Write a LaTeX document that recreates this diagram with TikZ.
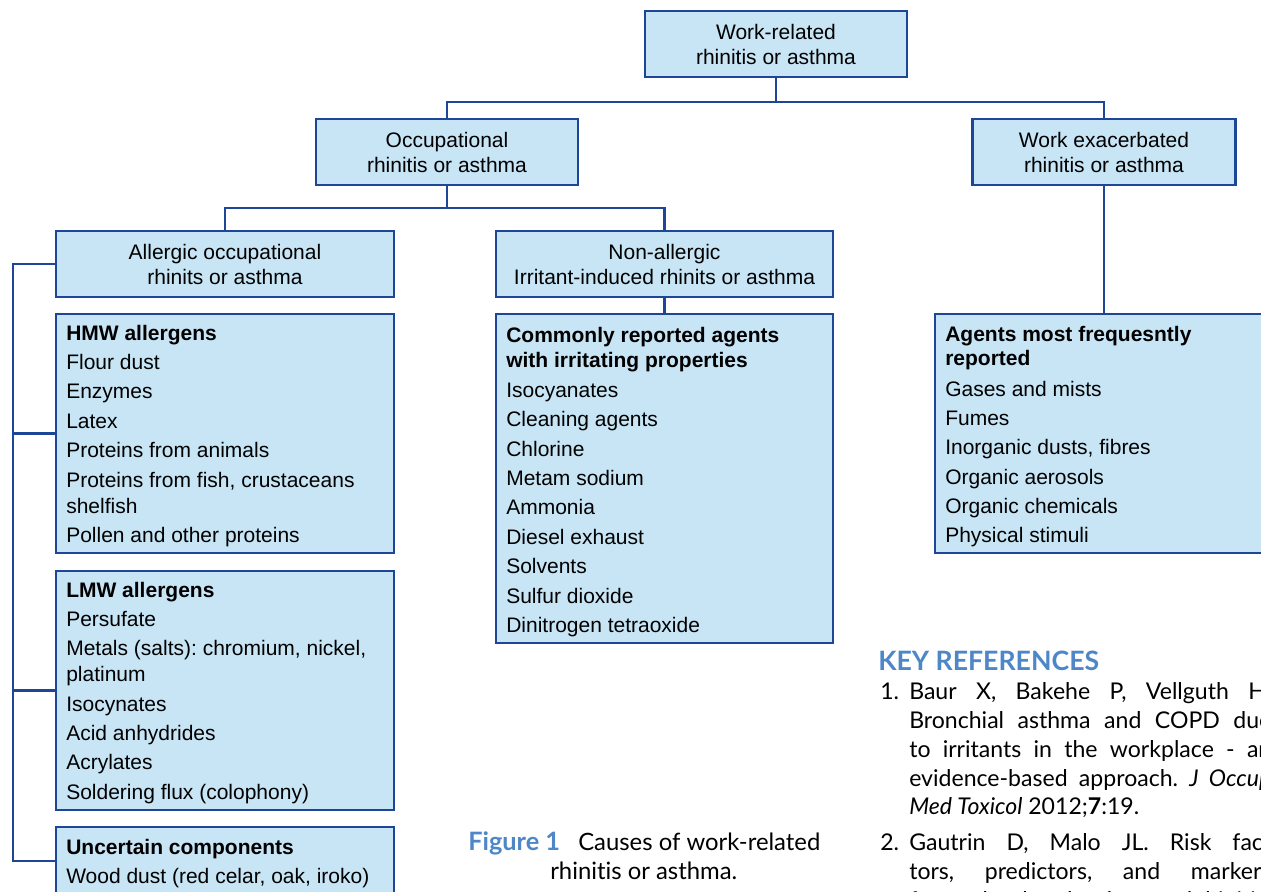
\documentclass[tikz,border=0pt]{standalone}
\usepackage{fontspec}
\setmainfont{Liberation Sans}
\newfontfamily\lato[Ligatures=NoCommon]{Lato}
\definecolor{bfill}{RGB}{199,229,245}
\definecolor{bline}{RGB}{30,70,150}
\definecolor{kblue}{RGB}{77,135,200}
\newcommand\dfont{\fontsize{15.75}{18.75}\selectfont}
\newcommand\rfont{\lato\fontsize{17.3}{21.75}\selectfont}
\newcommand\cfont{\lato\fontsize{17.9}{21.75}\selectfont}
\newcommand\kfont{\lato\bfseries\fontsize{20}{22}\selectfont}
\frenchspacing
\begin{document}
\begin{tikzpicture}[x=0.75pt,y=-0.75pt,
 box/.style n args={2}{draw=bline, fill=bfill, line width=1.8pt, inner sep=0pt, outer sep=0pt,
   minimum width=#1*0.75pt, minimum height=#2*0.75pt, align=center, font=\dfont},
 conn/.style={draw=bline, line width=1.8pt},
 item/.style={anchor=base west, inner sep=0pt, font=\dfont},
 head/.style={anchor=base west, inner sep=0pt, font=\dfont\bfseries},
 refl/.style={anchor=base west, inner sep=0pt, font=\rfont},
 capl/.style={anchor=base west, inner sep=0pt, font=\cfont},
]
\useasboundingbox (0,0) rectangle (1261,892);
\clip (0,0) rectangle (1261,892);
% header boxes
\node[box={262}{66}] (top) at (776,44) {Work-related\\rhinitis or asthma};
\node[box={262}{66}] (occ) at (447,152) {Occupational\\rhinitis or asthma};
\node[box={263}{66}] (wex) at (1104,152) {Work exacerbated\\rhinitis or asthma};
\node[box={338}{66}] (all) at (225,264) {Allergic occupational\\rhinits or asthma};
\node[box={337}{66}] (non) at (664.5,264) {Non-allergic\\Irritant-induced rhinits or asthma};
% list boxes
\node[box={338}{239}] (hmw) at (225,433.5) {};
\node[box={338}{239}] (lmw) at (225,690.5) {};
\node[box={338}{68}] (unc) at (225,861) {};
\node[box={337}{329}] (com) at (664.5,478.5) {};
\node[box={365}{239}] (agt) at (1117.5,433.5) {};
% connectors
\coordinate (j1) at (776,102);
\coordinate (j2) at (447,208);
\draw[conn] (top.south) -- (j1);
\draw[conn] (occ.north) |- (j1) -| (wex.north);
\draw[conn] (occ.south) -- (j2);
\draw[conn] (all.north) |- (j2) -| (non.north);
\draw[conn] (non.south) -- (com.north);
\draw[conn] (wex.south) -- (wex.south |- agt.north);
\coordinate (bt) at (13,264);
\coordinate (bb) at (13,861);
\draw[conn] (all.west) -- (bt) -- (bb) -- (unc.west);
\draw[conn] (hmw.west) -- (hmw.west -| bt);
\draw[conn] (lmw.west) -- (lmw.west -| bt);
% HMW
\node[head] (h0) at (66,340) {HMW allergens};
\node[item] (h1) at (66,369) {Flour dust};
\node[item] (h2) at (66,398) {Enzymes};
\node[item] (h3) at (66,428) {Latex};
\node[item] (h4) at (66,457) {Proteins from animals};
\node[item] (h5) at (66,487) {Proteins from fish, crustaceans};
\node[item] (h6) at (66,513) {shelfish};
\node[item] (h7) at (66,542) {Pollen and other proteins};
% LMW
\node[head] (l0) at (66,597) {LMW allergens};
\node[item] (l1) at (66,626) {Persufate};
\node[item] (l2) at (66,655) {Metals (salts): chromium, nickel,};
\node[item] (l3) at (66,681) {platinum};
\node[item] (l4) at (66,711) {Isocynates};
\node[item] (l5) at (66,740) {Acid anhydrides};
\node[item] (l6) at (66,769) {Acrylates};
\node[item] (l7) at (66,799) {Soldering flux (colophony)};
% Uncertain
\node[head] (u0) at (66,854) {Uncertain components};
\node[item] (u1) at (66,883) {Wood dust (red celar, oak, iroko)};
% Commonly reported
\node[head] (c0) at (506,342) {Commonly reported agents};
\node[head] (c1) at (506,367) {with irritating properties};
\node[item] (c2) at (506,397) {Isocyanates};
\node[item] (c3) at (506,426) {Cleaning agents};
\node[item] (c4) at (506,456) {Chlorine};
\node[item] (c5) at (506,485) {Metam sodium};
\node[item] (c6) at (506,514) {Ammonia};
\node[item] (c7) at (506,544) {Diesel exhaust};
\node[item] (c8) at (506,573) {Solvents};
\node[item] (c9) at (506,603) {Sulfur dioxide};
\node[item] (c10) at (506,632) {Dinitrogen tetraoxide};
% Agents
\node[head] (a0) at (945,341) {Agents most frequesntly};
\node[head] (a1) at (945,365) {reported};
\node[item] (a2) at (945,396) {Gases and mists};
\node[item] (a3) at (945,425) {Fumes};
\node[item] (a4) at (945,454) {Inorganic dusts, fibres};
\node[item] (a5) at (945,484) {Organic aerosols};
\node[item] (a6) at (945,513) {Organic chemicals};
\node[item] (a7) at (945,542) {Physical stimuli};
% caption
\node[capl, font=\lato\bfseries\fontsize{19}{22}\selectfont, text=kblue] (cap1) at (468,850) {Figure 1};
\node[capl] (cap2) at (578,850) {Causes of work-related};
\node[capl] (cap3) at (550,879) {rhinitis or asthma.};
% key references
\node[refl, font=\kfont, text=kblue] (kr) at (878,670) {KEY REFERENCES};
\node[refl] (r1n) at (880,699) {1.};
\node[refl] (r1a) at (909,699) {\makebox[271.5pt][s]{Baur X, Bakehe P, Vellguth H.}};
\node[refl] (r1b) at (909,728) {\makebox[271.5pt][s]{Bronchial asthma and COPD due}};
\node[refl] (r1c) at (909,757) {\makebox[271.5pt][s]{to irritants in the workplace - an}};
\node[refl] (r1d) at (909,786) {\makebox[271.5pt][s]{evidence-based approach. \textit{J Occup}}};
\node[refl] (r1e) at (909,814) {\textit{Med Toxicol} 2012;\textbf{7}:19.};
\node[refl] (r2n) at (880,850) {2.};
\node[refl] (r2a) at (909,850) {\makebox[271.5pt][s]{Gautrin D, Malo JL. Risk fac-}};
\node[refl] (r2b) at (909,879) {\makebox[271.5pt][s]{tors, predictors, and markers}};
\node[refl] (r2c) at (909,908) {\makebox[271.5pt][s]{for work-related asthma and rhinitis.}};
\end{tikzpicture}
\end{document}
